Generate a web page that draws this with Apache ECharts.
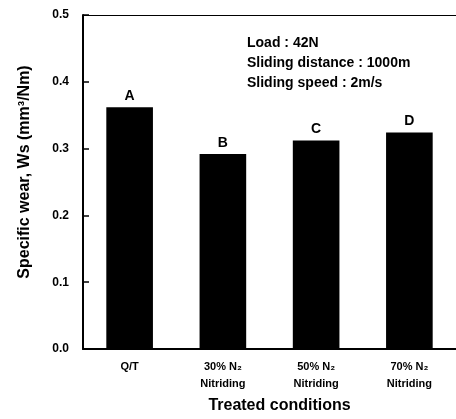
<!DOCTYPE html>
<html>
<head>
<meta charset="utf-8">
<script src="https://cdn.jsdelivr.net/npm/echarts@6/dist/echarts.min.js"></script>
<style>
html,body{margin:0;padding:0;background:#fff;}
#c{width:456px;height:419px;}
</style>
</head>
<body>
<div id="c"></div>
<script>
var categories = ['Q/T', '30% N\u2082\nNitriding', '50% N\u2082\nNitriding', '70% N\u2082\nNitriding'];
var wearValues = [0.362, 0.292, 0.312, 0.324];
var barLetters = ['A', 'B', 'C', 'D'];
var yTicks = [0.0, 0.1, 0.2, 0.3, 0.4, 0.5];
var noteLines = ['Load : 42N', 'Sliding distance : 1000m', 'Sliding speed : 2m/s'];

var FONT = '"Liberation Sans", Arial, sans-serif';
var chart = echarts.init(document.getElementById('c'), null, {renderer: 'canvas'});
chart.setOption({
  animation: false,
  backgroundColor: '#fff',
  grid: {left: 83, top: 15, width: 377, height: 334, containLabel: false},
  xAxis: [{
    type: 'category',
    data: categories,
    position: 'bottom',
    axisLine: {show: true, lineStyle: {color: '#000', width: 2}},
    axisTick: {show: false},
    axisLabel: {color: '#000', fontFamily: FONT, fontWeight: 'bold', fontSize: 11, lineHeight: 17, margin: 9},
    name: 'Treated conditions',
    nameLocation: 'middle',
    nameGap: 49,
    nameTextStyle: {color: '#000', fontFamily: FONT, fontWeight: 'bold', fontSize: 16, padding: [0, 0, 0, 20]}
  }, {
    type: 'category',
    data: categories,
    position: 'top',
    axisLine: {show: true, lineStyle: {color: '#000', width: 1}},
    axisTick: {show: false},
    axisLabel: {show: false}
  }],
  yAxis: {
    type: 'value',
    min: 0, max: 0.5, interval: 0.1,
    axisLine: {show: true, lineStyle: {color: '#000', width: 2}},
    axisTick: {show: true, inside: true, length: 6, lineStyle: {color: '#000', width: 1.5}},
    splitLine: {show: false},
    axisLabel: {color: '#000', fontFamily: FONT, fontWeight: 'bold', fontSize: 12, margin: 14,
      formatter: function (v) { return v.toFixed(1); }},
    name: 'Specific wear, Ws (mm\u00B3/Nm)',
    nameLocation: 'middle',
    nameGap: 50,
    nameTextStyle: {color: '#000', fontFamily: FONT, fontWeight: 'bold', fontSize: 16, padding: [0, 0, 0, 20]}
  },
  series: [{
    type: 'bar',
    data: wearValues,
    barWidth: '50%',
    itemStyle: {color: '#000'},
    label: {
      show: true, position: 'top', distance: 4,
      color: '#000', fontFamily: FONT, fontWeight: 'bold', fontSize: 14,
      formatter: function (p) { return barLetters[p.dataIndex]; }
    }
  }],
  graphic: noteLines.map(function (t, i) {
    return {type: 'text', left: 247, top: 36 + i * 20,
      style: {text: t, fill: '#000', font: 'bold 14px ' + FONT}};
  })
});
</script>
</body>
</html>
